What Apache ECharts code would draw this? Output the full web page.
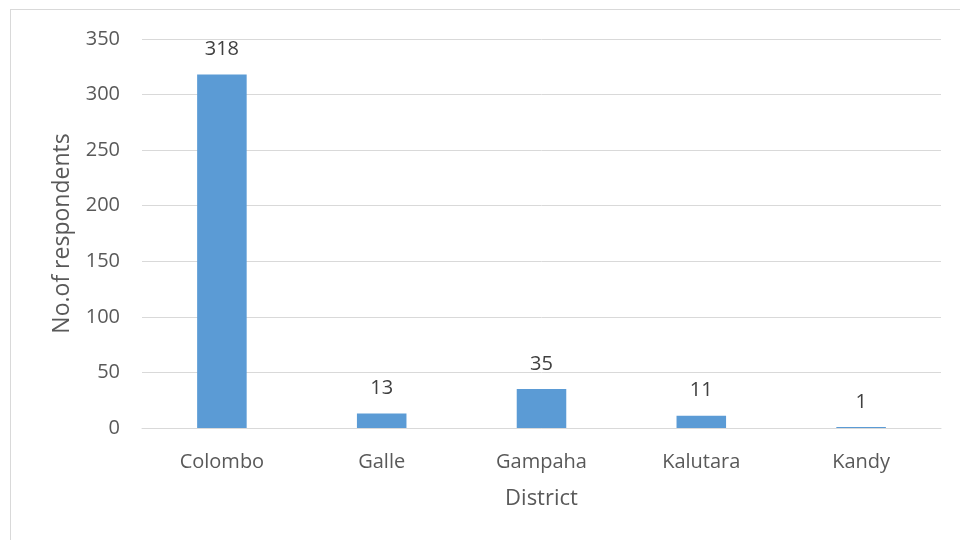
<!DOCTYPE html>
<html><head><meta charset="utf-8">
<script src="https://cdn.jsdelivr.net/npm/echarts@6/dist/echarts.min.js"></script>
<style>html,body{margin:0;padding:0;background:#fff}#c{width:960px;height:540px}
#frame{position:absolute;left:10px;top:9px;width:960px;height:540px;border:1px solid #d9d9d9;box-sizing:border-box;pointer-events:none}</style>
</head><body><div id="c"></div><div id="frame"></div>
<script>
const categories = ['Colombo','Galle','Gampaha','Kalutara','Kandy'];
const respondents = [318, 13, 35, 11, 1];
const yTicks = [0, 50, 100, 150, 200, 250, 300, 350];
const xTitle = 'District';
const yTitle = 'No.of respondents';
const font = '"Open Sans", sans-serif';
const chart = echarts.init(document.getElementById('c'));
chart.setOption({
  animation: false,
  grid: {left: 142, right: 19, top: 39, bottom: 112},
  xAxis: {
    type: 'category', data: categories,
    name: xTitle, nameLocation: 'middle', nameGap: 60,
    nameTextStyle: {fontFamily: font, fontSize: 22, color: '#595959'},
    axisLine: {lineStyle: {color: '#d9d9d9', width: 1}},
    axisTick: {show: false},
    axisLabel: {fontFamily: font, fontSize: 20, color: '#595959', margin: 24}
  },
  yAxis: {
    type: 'value', min: yTicks[0], max: yTicks[yTicks.length-1], interval: 50,
    name: yTitle, nameLocation: 'middle', nameGap: 68, nameRotate: 90,
    nameTextStyle: {fontFamily: font, fontSize: 23, color: '#595959'},
    axisLine: {show: false}, axisTick: {show: false},
    axisLabel: {fontFamily: font, fontSize: 20, color: '#595959', margin: 22},
    splitLine: {lineStyle: {color: '#d9d9d9', width: 1}}
  },
  series: [{
    type: 'bar', data: respondents, barWidth: '31%',
    itemStyle: {color: '#5B9BD5'},
    label: {show: true, position: 'top', distance: 15, fontFamily: font, fontSize: 20, color: '#404040'}
  }]
});
</script></body></html>
